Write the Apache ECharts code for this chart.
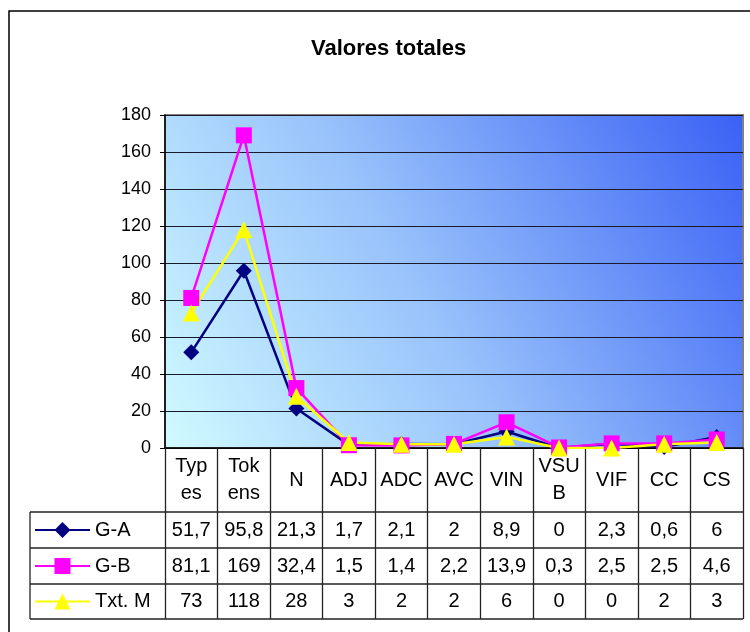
<!DOCTYPE html>
<html style="height: 100%">
<head>
<meta charset="utf-8">
<script src="https://cdn.jsdelivr.net/npm/echarts@6/dist/echarts.min.js"></script>
</head>
<body style="height: 100%; margin: 0; background: #fff">
<div id="container" style="width: 750px; height: 632px"></div>
<script type="text/javascript">
// data
var categories = ['Typ\nes', 'Tok\nens', 'N', 'ADJ', 'ADC', 'AVC', 'VIN', 'VSU\nB', 'VIF', 'CC', 'CS'];
var seriesNames = ['G-A', 'G-B', 'Txt. M'];
var gA = [51.7, 95.8, 21.3, 1.7, 2.1, 2, 8.9, 0, 2.3, 0.6, 6];
var gB = [81.1, 169, 32.4, 1.5, 1.4, 2.2, 13.9, 0.3, 2.5, 2.5, 4.6];
var txtM = [73, 118, 28, 3, 2, 2, 6, 0, 0, 2, 3];
var yMin = 0, yMax = 180, yStep = 20;

var FONT = '"Liberation Sans", Arial, sans-serif';
var G = {left: 165, top: 115, right: 743, bottom: 448};
var rowTop = [512, 548, 584, 619];
var tableLeft = 30;

function fmt(v) { return String(v).replace('.', ','); }

var dom = document.getElementById('container');
var myChart = echarts.init(dom);

var rows = [gA, gB, txtM];
var xAxes = [{
	type: 'category',
	data: categories,
	gridIndex: 0,
	boundaryGap: true,
	axisLine: {lineStyle: {color: '#000', width: 1.5}},
	axisTick: {show: true, interval: 0, inside: false, length: rowTop[3] - G.bottom, lineStyle: {color: '#222', width: 1.3}},
	axisLabel: {interval: 0, margin: 32, verticalAlign: 'middle', lineHeight: 27, color: '#000', fontSize: 20, fontFamily: FONT}
}];
rows.forEach(function(r, i) {
	xAxes.push({
		type: 'category',
		data: r.map(fmt),
		gridIndex: 0,
		position: 'bottom',
		offset: 0,
		axisLine: {show: false},
		axisTick: {show: false},
		axisLabel: {interval: 0, margin: (rowTop[i] + rowTop[i + 1]) / 2 - G.bottom, verticalAlign: 'middle', color: '#000', fontSize: 20, fontFamily: FONT}
	});
});

var graphics = [
	{type: 'rect', shape: {x: 9, y: 11, width: 800, height: 700}, style: {fill: null, stroke: '#000', lineWidth: 1.5}, z: -10, silent: true}
];
rowTop.forEach(function(y) {
	graphics.push({type: 'line', shape: {x1: tableLeft, y1: y, x2: G.right, y2: y}, style: {stroke: '#222', lineWidth: 1.3}, silent: true});
});
graphics.push({type: 'line', shape: {x1: tableLeft, y1: rowTop[0], x2: tableLeft, y2: rowTop[3]}, style: {stroke: '#222', lineWidth: 1.3}, silent: true});

// one legend per table row so each key sits in its own cell
var legends = seriesNames.map(function(name, i) {
	return {
		data: [name],
		left: 34,
		top: (rowTop[i] + rowTop[i + 1]) / 2 - 10,
		padding: 0,
		itemWidth: 55,
		itemHeight: 20,
		textStyle: {fontFamily: FONT, fontSize: 20, lineHeight: 20, color: '#000'}
	};
});

var option = {
	animation: false,
	title: {
		text: 'Valores totales',
		left: 306,
		top: 33,
		textStyle: {fontFamily: FONT, fontSize: 22, fontWeight: 'bold', color: '#000'}
	},
	legend: legends,
	grid: {
		left: G.left,
		top: G.top,
		width: G.right - G.left,
		height: G.bottom - G.top,
		show: true,
		borderColor: '#808080',
		borderWidth: 2,
		backgroundColor: new echarts.graphic.LinearGradient(0, 1, 1, 0, [
			{offset: 0, color: '#d0fbff'},
			{offset: 0.45, color: '#98c2fb'},
			{offset: 1, color: '#3a60f5'}
		])
	},
	xAxis: xAxes,
	yAxis: {
		type: 'value',
		min: yMin,
		max: yMax,
		interval: yStep,
		axisLine: {show: true, lineStyle: {color: '#000', width: 1.5}},
		axisTick: {show: true, length: 5, lineStyle: {color: '#000'}},
		splitLine: {show: true, lineStyle: {color: '#1a1a2a', width: 1}},
		axisLabel: {margin: 14, color: '#000', fontSize: 18, fontFamily: FONT}
	},
	series: [{
		name: seriesNames[0],
		type: 'line',
		data: gA,
		symbol: 'diamond',
		symbolSize: 16,
		lineStyle: {color: '#000080', width: 2.5},
		itemStyle: {color: '#000080'}
	}, {
		name: seriesNames[1],
		type: 'line',
		data: gB,
		symbol: 'rect',
		symbolSize: 16,
		lineStyle: {color: '#ff00ff', width: 2.5},
		itemStyle: {color: '#ff00ff'}
	}, {
		name: seriesNames[2],
		type: 'line',
		data: txtM,
		symbol: 'triangle',
		symbolSize: 17,
		lineStyle: {color: '#ffff00', width: 2.5},
		itemStyle: {color: '#ffff00'}
	}],
	graphic: graphics
};

myChart.setOption(option);
</script>
</body>
</html>
